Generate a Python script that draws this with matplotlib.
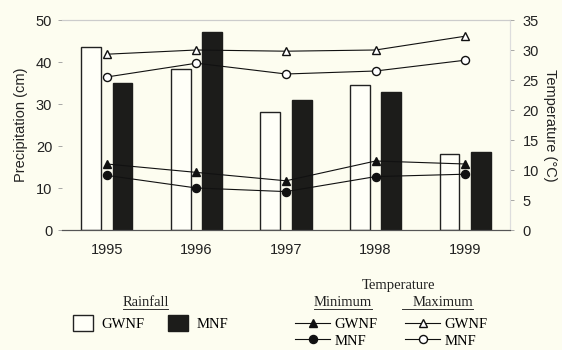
import matplotlib
matplotlib.use("Agg")
import matplotlib.pyplot as plt
import numpy as np
from matplotlib.patches import Patch
from matplotlib.lines import Line2D

# data
years = ["1995", "1996", "1997", "1998", "1999"]
rain_gwnf = [43.6, 38.3, 28.0, 34.6, 18.1]   # cm
rain_mnf = [35.0, 47.1, 31.0, 32.8, 18.5]
tmax_gwnf = [29.3, 30.0, 29.8, 30.0, 32.3]   # deg C
tmax_mnf = [25.5, 27.8, 26.0, 26.5, 28.3]
tmin_gwnf = [11.0, 9.6, 8.2, 11.5, 11.0]
tmin_mnf = [9.1, 7.0, 6.4, 8.9, 9.3]

plt.rcParams["font.family"] = ["Liberation Sans", "DejaVu Sans"]
bg = "#fdfdf0"
W, H = 562, 350

fig = plt.figure(figsize=(W / 100, H / 100), dpi=100, facecolor=bg)
ax = fig.add_axes([62 / W, 1 - 230 / H, (510 - 62) / W, (230 - 20) / H])
ax.set_facecolor(bg)
ax2 = ax.twinx()

x = np.arange(len(years))
bw = 0.22
ax.bar(x - 0.175, rain_gwnf, bw, facecolor="#fffff8", edgecolor="#222222", linewidth=1.0, zorder=2)
ax.bar(x + 0.175, rain_mnf, bw, facecolor="#1c1c1a", edgecolor="#1c1c1a", linewidth=1.0, zorder=2)

ax.set_xlim(-0.5, 4.5)
ax.set_ylim(0, 50)
ax.set_yticks(range(0, 51, 10))
ax.set_xticks(x)
ax.set_xticklabels(years)
ax.tick_params(axis="x", length=0, pad=9, labelsize=10.5, labelcolor="#222222")
ax.tick_params(axis="y", length=3, width=0.6, color="#999999", labelsize=10.5, labelcolor="#222222", pad=4)
ax.set_ylabel("Precipitation (cm)", fontsize=10.5, color="#222222", labelpad=6)

ax2.set_ylim(0, 35)
ax2.set_yticks(range(0, 36, 5))
ax2.tick_params(axis="y", length=3, width=0.6, color="#999999", labelsize=10.5, labelcolor="#222222", pad=6)
ax2.set_ylabel("Temperature (°C)", fontsize=10.5, color="#222222", rotation=270, labelpad=13)

lk = dict(color="#111111", linewidth=0.8, markersize=5.8, markeredgewidth=1.0,
          markeredgecolor="#111111", zorder=3)
l_maxg, = ax2.plot(x, tmax_gwnf, marker="^", markerfacecolor="white", **lk)
l_maxm, = ax2.plot(x, tmax_mnf, marker="o", markerfacecolor="white", **lk)
l_ming, = ax2.plot(x, tmin_gwnf, marker="^", markerfacecolor="#111111", **lk)
l_minm, = ax2.plot(x, tmin_mnf, marker="o", markerfacecolor="#111111", **lk)

for a in (ax, ax2):
    a.spines["left"].set_visible(False)
    a.spines["top"].set_color("#cccccc")
    a.spines["right"].set_color("#dddddd")
    a.spines["bottom"].set_color("#555555")
    a.spines["top"].set_linewidth(0.8)
    a.spines["right"].set_linewidth(0.8)

# legends
serif = "Liberation Serif"
fs = 10.5
leg1 = fig.legend(handles=[Patch(facecolor="#fffff8", edgecolor="#222222", linewidth=1.0),
                           Patch(facecolor="#1c1c1a", edgecolor="#1c1c1a")],
                  labels=["GWNF", "MNF"], ncol=2, loc="center left",
                  bbox_to_anchor=(73 / W, 1 - 323 / H), frameon=False,
                  borderpad=0, borderaxespad=0, handlelength=1.35, handleheight=1.35,
                  handletextpad=0.6, columnspacing=1.6,
                  prop={"family": serif, "size": fs})

leg2 = fig.legend(handles=[l_ming, l_minm, l_maxg, l_maxm],
                  labels=["GWNF", "MNF", "GWNF", "MNF"], ncol=2, loc="center left",
                  bbox_to_anchor=(295 / W, 1 - 332.5 / H), frameon=False,
                  borderpad=0, borderaxespad=0, handlelength=2.4, handletextpad=0.3,
                  columnspacing=1.9, labelspacing=0.25,
                  prop={"family": serif, "size": fs})

heads = [("Rainfall", 146, 303, (123, 168)),
         ("Temperature", 398, 285, None),
         ("Minimum", 343, 303, (314, 372)),
         ("Maximum", 443, 303, (402, 473))]
for txt, hx, hy, ul in heads:
    fig.text(hx / W, 1 - hy / H, txt, ha="center", va="center",
             family=serif, fontsize=fs, color="#222222")
    if ul:
        fig.add_artist(Line2D([ul[0] / W, ul[1] / W], [1 - 309 / H, 1 - 309 / H],
                              transform=fig.transFigure, color="#333333", linewidth=0.7))

fig.savefig("out.png", dpi=100, facecolor=bg)
